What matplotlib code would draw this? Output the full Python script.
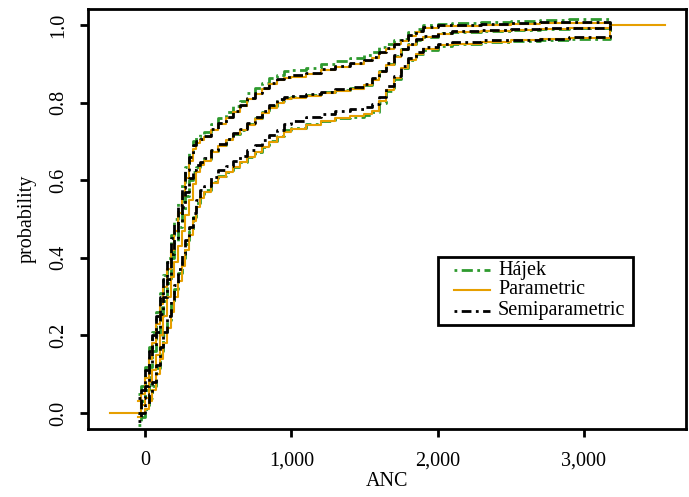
import matplotlib
matplotlib.use("Agg")
import matplotlib.pyplot as plt
from matplotlib.lines import Line2D
from matplotlib.patches import Rectangle

# ---- data ----
anc = [-50, -25, 0, 25, 50, 75, 100, 125, 150, 175, 200, 225, 250, 275, 300, 325, 350, 375, 400,
       450, 500, 550, 600, 650, 700, 750, 800, 850, 900, 950, 1000,
       1100, 1200, 1300, 1400, 1500, 1550, 1600, 1650, 1700, 1750, 1800, 1850, 1900, 2000,
       2100, 2300, 2500, 2700, 2900, 3178]

hajek_est = [0.00, 0.03, 0.06, 0.12, 0.16, 0.20, 0.245, 0.29, 0.335, 0.40, 0.44, 0.48, 0.52, 0.56, 0.60, 0.62, 0.635, 0.645, 0.655,
             0.675, 0.69, 0.705, 0.72, 0.73, 0.745, 0.76, 0.775, 0.79, 0.805, 0.812, 0.815,
             0.82, 0.826, 0.832, 0.838, 0.846, 0.86, 0.88, 0.90, 0.92, 0.937, 0.95, 0.962, 0.97, 0.978,
             0.982, 0.985, 0.988, 0.99, 0.992, 1.0]
hajek_up = [0.05, 0.07, 0.12, 0.17, 0.21, 0.26, 0.31, 0.355, 0.40, 0.46, 0.50, 0.545, 0.59, 0.635, 0.67, 0.70, 0.71, 0.718, 0.725,
            0.745, 0.76, 0.775, 0.79, 0.805, 0.825, 0.838, 0.85, 0.862, 0.872, 0.88, 0.884,
            0.89, 0.90, 0.908, 0.915, 0.923, 0.93, 0.943, 0.95, 0.96, 0.965, 0.982, 0.99, 1.0, 1.003,
            1.005, 1.008, 1.01, 1.013, 1.015, 1.0]
hajek_lo = [-0.03, -0.01, 0.01, 0.04, 0.07, 0.115, 0.16, 0.20, 0.24, 0.28, 0.32, 0.36, 0.40, 0.435, 0.47, 0.505, 0.54, 0.565, 0.575,
            0.595, 0.61, 0.622, 0.635, 0.648, 0.66, 0.672, 0.685, 0.70, 0.715, 0.728, 0.735,
            0.745, 0.753, 0.76, 0.764, 0.768, 0.775, 0.80, 0.83, 0.86, 0.89, 0.91, 0.925, 0.935, 0.945,
            0.95, 0.955, 0.958, 0.962, 0.965, 1.0]

param_est = [0.00, 0.02, 0.04, 0.08, 0.11, 0.15, 0.20, 0.25, 0.30, 0.35, 0.39, 0.43, 0.47, 0.51, 0.55, 0.59, 0.62, 0.638, 0.65,
             0.672, 0.688, 0.703, 0.718, 0.73, 0.743, 0.758, 0.772, 0.787, 0.798, 0.808, 0.812,
             0.818, 0.824, 0.83, 0.836, 0.844, 0.858, 0.878, 0.898, 0.918, 0.935, 0.948, 0.96, 0.968, 0.977,
             0.981, 0.984, 0.987, 0.989, 0.991, 1.0]
param_up = [0.03, 0.05, 0.09, 0.14, 0.18, 0.23, 0.28, 0.325, 0.37, 0.42, 0.47, 0.515, 0.56, 0.605, 0.65, 0.68, 0.695, 0.703, 0.71,
            0.728, 0.745, 0.76, 0.775, 0.79, 0.81, 0.823, 0.835, 0.847, 0.857, 0.863, 0.867,
            0.874, 0.883, 0.892, 0.899, 0.907, 0.915, 0.928, 0.938, 0.95, 0.958, 0.972, 0.982, 0.992, 0.997,
            0.998, 1.0, 1.002, 1.004, 1.005, 1.0]
param_lo = [-0.01, 0.0, 0.01, 0.03, 0.06, 0.10, 0.14, 0.18, 0.22, 0.26, 0.30, 0.34, 0.38, 0.42, 0.46, 0.495, 0.53, 0.555, 0.57,
            0.592, 0.608, 0.62, 0.633, 0.647, 0.66, 0.672, 0.685, 0.699, 0.712, 0.725, 0.732,
            0.743, 0.752, 0.76, 0.765, 0.77, 0.778, 0.803, 0.832, 0.862, 0.89, 0.91, 0.926, 0.937, 0.947,
            0.952, 0.957, 0.96, 0.963, 0.966, 1.0]
param_start = -240
param_end = 3555

semi_est = [0.00, 0.04, 0.07, 0.13, 0.17, 0.21, 0.255, 0.30, 0.345, 0.41, 0.45, 0.49, 0.53, 0.57, 0.605, 0.625, 0.638, 0.648, 0.658,
            0.678, 0.692, 0.707, 0.722, 0.733, 0.748, 0.763, 0.778, 0.793, 0.808, 0.815, 0.817,
            0.822, 0.828, 0.834, 0.84, 0.848, 0.862, 0.882, 0.902, 0.922, 0.939, 0.952, 0.964, 0.972, 0.98,
            0.984, 0.987, 0.99, 0.992, 0.993, 1.0]
semi_up = [0.04, 0.06, 0.11, 0.16, 0.20, 0.25, 0.30, 0.345, 0.39, 0.45, 0.49, 0.535, 0.58, 0.625, 0.66, 0.69, 0.70, 0.707, 0.713,
           0.732, 0.748, 0.763, 0.778, 0.793, 0.812, 0.825, 0.838, 0.85, 0.86, 0.866, 0.870,
           0.877, 0.886, 0.895, 0.902, 0.910, 0.918, 0.93, 0.94, 0.952, 0.96, 0.975, 0.985, 0.995, 0.999,
           1.0, 1.003, 1.005, 1.007, 1.008, 1.0]
semi_lo = [-0.02, 0.0, 0.02, 0.05, 0.08, 0.125, 0.17, 0.21, 0.25, 0.29, 0.33, 0.37, 0.41, 0.445, 0.48, 0.515, 0.55, 0.575, 0.585,
           0.607, 0.625, 0.637, 0.65, 0.663, 0.677, 0.69, 0.703, 0.717, 0.73, 0.745, 0.752,
           0.762, 0.77, 0.778, 0.783, 0.788, 0.795, 0.815, 0.842, 0.868, 0.895, 0.915, 0.93, 0.942, 0.952,
           0.956, 0.96, 0.962, 0.965, 0.968, 1.0]

x_ticks = [0, 1000, 2000, 3000]
x_tick_labels = ["0", "1,000", "2,000", "3,000"]
y_ticks = [0.0, 0.2, 0.4, 0.6, 0.8, 1.0]
y_tick_labels = ["0.0", "0.2", "0.4", "0.6", "0.8", "1.0"]
legend_labels = ["Hájek", "Parametric", "Semiparametric"]

GREEN = "#2e9a2e"
ORANGE = "#E69F00"
BLACK = "#000000"
DD_G = (1, 1.6, 4, 1.6)
DD_K = (1, 1.6, 3.5, 1.6)

plt.rcParams['font.family'] = ['Liberation Serif', 'DejaVu Serif']

W, H = 689, 497
fig = plt.figure(figsize=(W / 100, H / 100), dpi=100)
ax = fig.add_axes([88 / W, 1 - 429 / H, (686 - 88) / W, (429 - 9) / H])

for ys in (hajek_up, hajek_est, hajek_lo):
    ax.step(anc, ys, where='post', color=GREEN, lw=2.0, dashes=DD_G)

px = [param_start] + anc + [param_end]
ax.step(px, [0.0] + param_est + [1.0], where='post', color=ORANGE, lw=1.5)
for ys in (param_up, param_lo):
    ax.step(anc, ys, where='post', color=ORANGE, lw=1.5)

for ys in (semi_up, semi_est, semi_lo):
    ax.step(anc, ys, where='post', color=BLACK, lw=2.0, dashes=DD_K)

ax.set_xlim(-390, 3698)
ax.set_ylim(-0.041, 1.041)

ax.set_xticks(x_ticks)
ax.set_xticklabels(x_tick_labels)
ax.set_yticks(y_ticks)
ax.set_yticklabels(y_tick_labels, rotation=90, va='center')
ax.tick_params(axis='both', direction='out', length=6, width=2, labelsize=14.5)
ax.tick_params(axis='x', pad=10)
ax.tick_params(axis='y', pad=8)
for s in ax.spines.values():
    s.set_linewidth(2)

ax.set_xlabel("ANC", fontsize=14.5, labelpad=1)
ax.set_ylabel("probability", fontsize=14.5, labelpad=9)

# legend box drawn in figure pixel coordinates
def fxy(x, y):
    return x / W, 1 - y / H

x0, y0 = fxy(438, 325)
x1, y1 = fxy(633, 257)
fig.add_artist(Rectangle((x0, y0), x1 - x0, y1 - y0, transform=fig.transFigure,
                         fill=True, facecolor='white', edgecolor='black', lw=2, zorder=5))
rows = [270, 290, 311]
styles = [dict(color=GREEN, lw=2.0, dashes=DD_G),
          dict(color=ORANGE, lw=1.5),
          dict(color=BLACK, lw=2.0, dashes=DD_K)]
for r, st, lab in zip(rows, styles, legend_labels):
    xa, ya = fxy(454, r)
    xb, _ = fxy(490, r)
    fig.add_artist(Line2D([xa, xb], [ya, ya], transform=fig.transFigure, zorder=6, **st))
    xt, _ = fxy(498, r)
    fig.text(xt, ya, lab, fontsize=14.5, va='center', ha='left', zorder=6)

fig.savefig("out.png", dpi=100)
